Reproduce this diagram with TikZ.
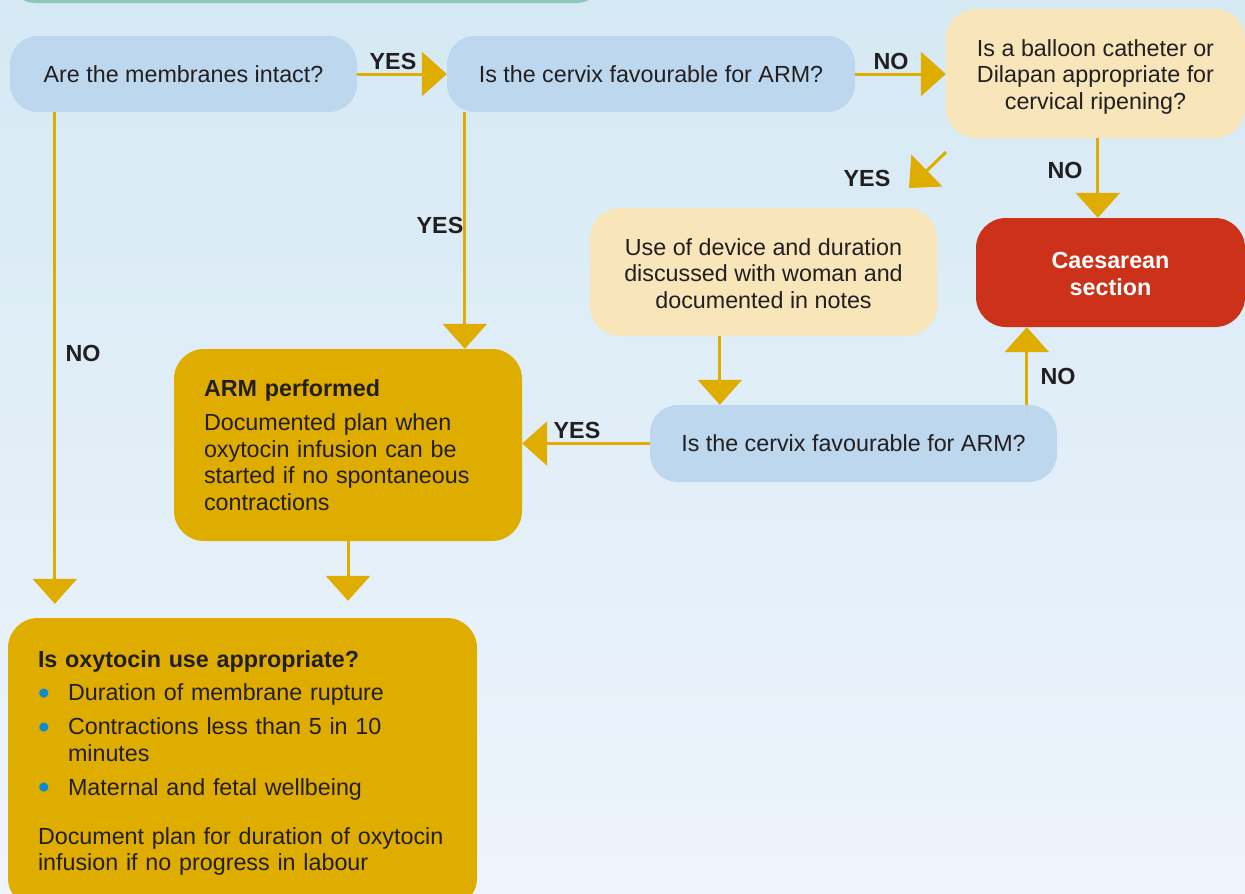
\documentclass[tikz,border=0pt]{standalone}
\usepackage{fontspec}
\setmainfont{Liberation Sans}
\usetikzlibrary{arrows.meta}
\definecolor{bgtop}{HTML}{D5E9F4}
\definecolor{bgbot}{HTML}{EEF4FB}
\definecolor{teal}{HTML}{8CC6B8}
\definecolor{qblue}{HTML}{BDD7EE}
\definecolor{beige}{HTML}{F8E5BA}
\definecolor{cred}{HTML}{CC3219}
\definecolor{gold}{HTML}{DFAC00}
\definecolor{ink}{HTML}{231F20}
\definecolor{bulblue}{HTML}{0A8BD0}
\newcommand\dfont{\fontsize{23.3}{26.5}\selectfont}
\newcommand\bul{\makebox[30pt][l]{\textcolor{bulblue}{\raisebox{-3.5pt}{\fontsize{33}{26.5}\selectfont\textbullet}}}}
\begin{document}
\begin{tikzpicture}[x=1pt,y=-1pt,
  box/.style={rounded corners=28pt, inner sep=0pt, font=\dfont, text=ink, align=center},
  qbox/.style={box, fill=qblue},
  bbox/.style={box, fill=beige},
  gbox/.style={box, fill=gold, inner xsep=30pt, align=left},
  rbox/.style={box, fill=cred, text=white, font=\dfont\bfseries},
  lab/.style={font=\dfont\bfseries, text=ink, inner sep=0pt},
  arr/.style={draw=gold, line width=3pt, -{Triangle[width=44pt,length=25pt]}}]
\useasboundingbox (0,0) rectangle (1245,894);
\clip (0,0) rectangle (1245,894);
\shade[top color=bgtop, bottom color=bgbot] (0,0) rectangle (1245,894);
\fill[teal, rounded corners=25pt] (10,-60) rectangle (602,3);

% boxes
\node[qbox, minimum width=347pt, minimum height=76pt] (n1) at (183.5,74) {Are the membranes intact?};
\node[qbox, minimum width=408pt, minimum height=76pt] (n2) at (651,74) {Is the cervix favourable for ARM?};
\node[bbox, minimum width=299pt, minimum height=129pt, rounded corners=30pt] (n3) at (1095.5,73.5) {\rule{0pt}{23pt}Is a balloon catheter or\\Dilapan appropriate for\\cervical ripening?};
\node[bbox, minimum width=347pt, minimum height=128pt, rounded corners=30pt] (n4) at (763.5,272) {\rule{0pt}{20pt}Use of device and duration\\discussed with woman and\\documented in notes};
\node[rbox, minimum width=269pt, minimum height=109pt, rounded corners=30pt] (n5) at (1110.5,272.5) {\rule{0pt}{19pt}Caesarean\\section};
\node[gbox, text width=288pt, minimum width=348pt, minimum height=192pt, rounded corners=30pt] (n6) at (348,445) {\textbf{ARM performed}\\[7.5pt]Documented plan when\\oxytocin infusion can be\\started if no spontaneous\\contractions};
\node[qbox, minimum width=407pt, minimum height=77pt] (n7) at (853.5,443.5) {Is the cervix favourable for ARM?};
\node[gbox, text width=409pt, minimum width=469pt, minimum height=290pt, rounded corners=30pt] (n8) at (242.5,763) {\textbf{Is oxytocin use appropriate?}\\[6.5pt]
\bul Duration of membrane rupture\\[7.5pt]
\bul Contractions less than 5 in 10\\
\hspace*{30pt}minutes\\[7.5pt]
\bul Maternal and fetal wellbeing\\[22.5pt]
Document plan for duration of oxytocin\\
infusion if no progress in labour};

% connectors
\draw[arr] (n1.east) -- (n2.west);
\draw[arr] (n2.east) -- (n2.east -| n3.west);
\draw[arr, shorten >=14pt] ([xshift=45pt]n1.south west) -- ([xshift=45pt]n1.south west |- n8.north);
\draw[arr] ([xshift=18pt]n2.south west) -- ([xshift=18pt]n2.south west |- n6.north);
\draw[arr] ([xshift=152pt]n3.south west) -- ([xshift=152pt]n3.south west |- n5.north);
\draw[arr] ([xshift=130pt]n4.south west) -- ([xshift=130pt]n4.south west |- n7.north);
\draw[arr] ([xshift=377pt]n7.north west) -- ([xshift=377pt]n7.north west |- n5.south);
\draw[arr] (n7.west) -- (n7.west -| n6.east);
\draw[arr, shorten >=17pt] (n6.south) -- (n6.south |- n8.north);
\coordinate (d1) at (946,152);
\coordinate (d2) at (909,188);
\draw[arr] (d1) -- (d2);

% labels
\node[lab] (l1) at (393,61) {YES};
\node[lab] (l2) at (891,61) {NO};
\node[lab] (l3) at (867,178) {YES};
\node[lab] (l4) at (1065,170) {NO};
\node[lab] (l5) at (440,225) {YES};
\node[lab] (l6) at (83,353) {NO};
\node[lab] (l7) at (577,430) {YES};
\node[lab] (l8) at (1058,376) {NO};
\end{tikzpicture}
\end{document}
